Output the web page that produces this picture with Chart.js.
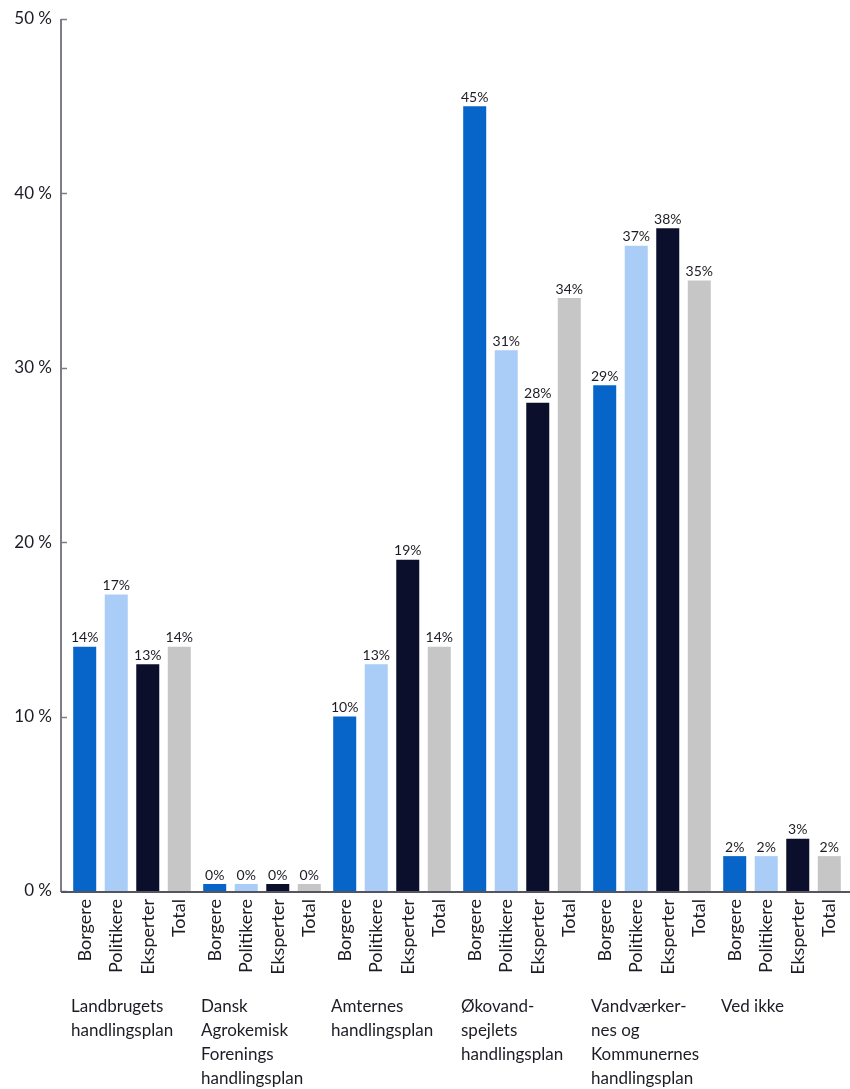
<!DOCTYPE html>
<html>
<head>
<meta charset="utf-8">
<script src="https://cdn.jsdelivr.net/npm/chart.js@4.4.1/dist/chart.umd.min.js"></script>
<style>
  html, body { margin: 0; padding: 0; background: #ffffff; }
  #wrap { width: 850px; height: 1089px; position: relative; }
</style>
</head>
<body>
<div id="wrap"><canvas id="c" width="850" height="1089"></canvas></div>
<script>
// ---- data ----
const groupLabels = [
  ["Landbrugets", "handlingsplan"],
  ["Dansk", "Agrokemisk", "Forenings", "handlingsplan"],
  ["Amternes", "handlingsplan"],
  ["Økovand-", "spejlets", "handlingsplan"],
  ["Vandværker-", "nes og", "Kommunernes", "handlingsplan"],
  ["Ved ikke"]
];
const seriesNames = ["Borgere", "Politikere", "Eksperter", "Total"];
const borgere    = [14, 0, 10, 45, 29, 2];
const politikere = [17, 0, 13, 31, 37, 2];
const eksperter  = [13, 0, 19, 28, 38, 3];
const total      = [14, 0, 14, 34, 35, 2];
const yMax = 50;
const yStep = 10;

const seriesValues = [borgere, politikere, eksperter, total];
const seriesColors = ["#0764c9", "#a9cdf6", "#0b0f2c", "#c6c6c6"];

const FONT = "Lato, 'Open Sans', sans-serif";
const TEXT = "#1c1c24";

const axisPlugin = {
  id: 'axisLines',
  afterDatasetsDraw(chart) {
    const { ctx, chartArea, scales: { y } } = chart;
    const ax = chartArea.left - 6;
    const top = y.getPixelForValue(yMax);
    const bottom = y.getPixelForValue(0);
    ctx.save();
    ctx.strokeStyle = '#7d7d88';
    ctx.lineWidth = 2;
    ctx.beginPath();
    ctx.moveTo(ax, top);
    ctx.lineTo(ax, bottom + 1);
    ctx.stroke();
    ctx.lineWidth = 1.5;
    ctx.beginPath();
    y.ticks.forEach(t => {
      const py = Math.round(y.getPixelForValue(t.value)) + 0.5;
      ctx.moveTo(ax, py);
      ctx.lineTo(ax + 6, py);
    });
    ctx.stroke();
    ctx.strokeStyle = '#55555f';
    ctx.lineWidth = 2;
    ctx.beginPath();
    ctx.moveTo(ax, bottom + 1);
    ctx.lineTo(chart.width, bottom + 1);
    ctx.stroke();
    ctx.restore();
  }
};

const labelPlugin = {
  id: 'barLabels',
  afterDatasetsDraw(chart) {
    const { ctx, chartArea } = chart;
    ctx.save();
    chart.data.datasets.forEach((ds, d) => {
      const meta = chart.getDatasetMeta(d);
      meta.data.forEach((bar, i) => {
        // value label
        ctx.fillStyle = TEXT;
        ctx.font = "14px " + FONT;
        ctx.textAlign = 'center';
        ctx.textBaseline = 'bottom';
        ctx.fillText(ds.data[i] + '%', bar.x, bar.y - 2);
        // rotated series name
        ctx.save();
        ctx.translate(bar.x, chartArea.bottom + 8);
        ctx.rotate(-Math.PI / 2);
        ctx.font = "18px " + FONT;
        ctx.textAlign = 'right';
        ctx.textBaseline = 'middle';
        ctx.fillText(ds.label, 0, 0);
        ctx.restore();
      });
    });
    ctx.restore();
  }
};

new Chart(document.getElementById('c'), {
  type: 'bar',
  data: {
    labels: groupLabels,
    datasets: seriesNames.map((name, k) => ({
      label: name,
      data: seriesValues[k],
      backgroundColor: seriesColors[k],
      borderWidth: 0,
      minBarLength: 7,
      clip: 0,
      categoryPercentage: 0.97,
      barPercentage: 0.73
    }))
  },
  options: {
    responsive: false,
    animation: false,
    devicePixelRatio: 1,
    layout: { padding: { top: 19, right: 3, left: 0, bottom: 0 } },
    plugins: { legend: { display: false }, tooltip: { enabled: false } },
    scales: {
      x: {
        offset: true,
        grid: { display: false },
        border: { display: false },
        ticks: {
          autoSkip: false,
          maxRotation: 0,
          minRotation: 0,
          align: 'start',
          labelOffset: -61,
          padding: 95,
          color: TEXT,
          font: { family: FONT, size: 17, lineHeight: 1.42 }
        },
        afterFit(scale) {
          scale.height = 198;
          scale.paddingLeft = 0;
          scale.paddingRight = 0;
        }
      },
      y: {
        min: 0,
        max: yMax,
        grid: { display: false },
        border: { display: false },
        ticks: {
          stepSize: yStep,
          padding: 7,
          color: TEXT,
          font: { family: FONT, size: 17 },
          callback: v => v + ' %'
        },
        afterFit(scale) { scale.width = 67; }
      }
    }
  },
  plugins: [axisPlugin, labelPlugin]
});
</script>
</body>
</html>
